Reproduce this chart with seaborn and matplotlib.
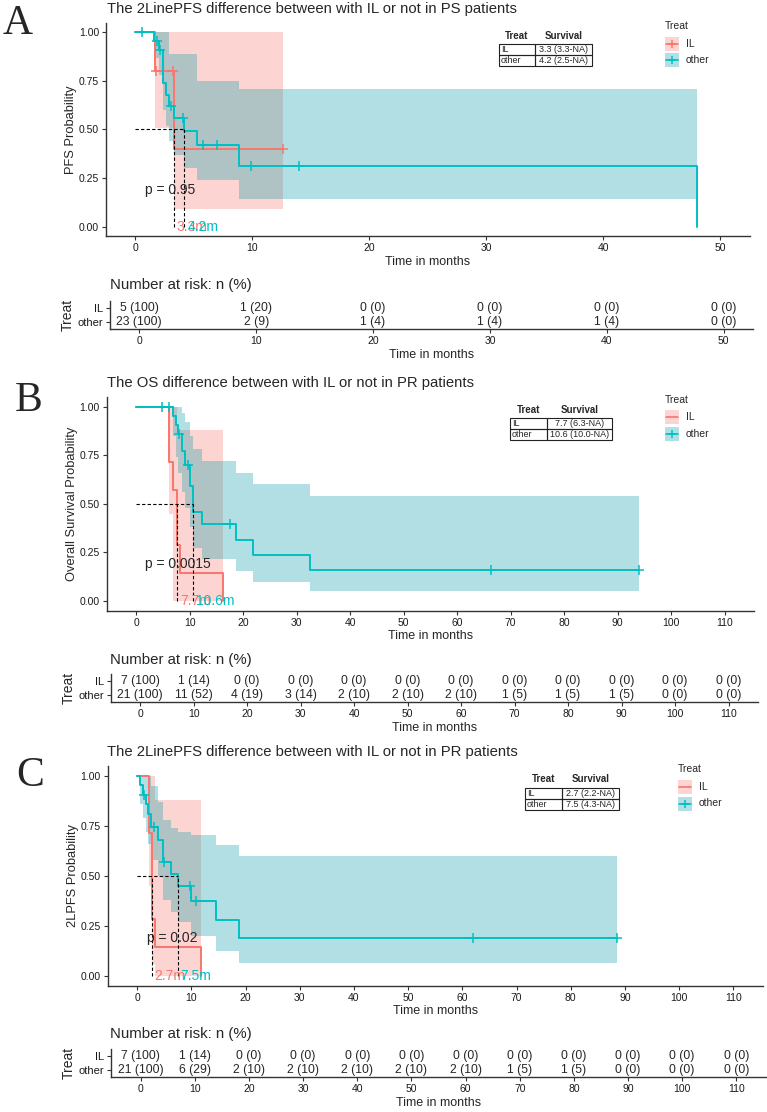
import matplotlib
matplotlib.use("Agg")
import matplotlib.pyplot as plt
from matplotlib import font_manager
from matplotlib.patches import Rectangle
import numpy as np
import pandas as pd
import seaborn as sns

# ---------------- values ----------------
# Panel A: 2LinePFS, PS patients
a_il_t = [0, 1.7, 3.3, 12.6]
a_il_s = [1.0, 0.8, 0.4, 0.4]
a_il_lo = [1.0, 0.51, 0.09, 0.09]
a_il_hi = [1.0, 1.0, 1.0, 1.0]
a_il_cens = [1.8, 3.2, 12.6]
a_ot_t = [0, 1.6, 2.0, 2.4, 2.6, 2.85, 3.3, 4.2, 5.3, 8.9, 48]
a_ot_s = [1.0, 0.957, 0.91, 0.74, 0.68, 0.62, 0.56, 0.49, 0.42, 0.31, 0.0]
a_ot_lo = [1.0, 0.87, 0.78, 0.6, 0.52, 0.44, 0.37, 0.30, 0.24, 0.14, 0.14]
a_ot_hi = [1.0, 1.0, 1.0, 1.0, 1.0, 0.886, 0.886, 0.886, 0.75, 0.706, 0.706]
a_ot_cens = [0.6, 1.9, 2.1, 3.05, 4.1, 5.8, 7.0, 9.9, 14.0]
a_median = [3.3, 4.2]
a_lcl = [3.3, 2.5]
a_pval = "p = 0.95"
a_risk_t = [0, 10, 20, 30, 40, 50]
a_risk_il_n = [5, 1, 0, 0, 0, 0]
a_risk_il_p = [100, 20, 0, 0, 0, 0]
a_risk_ot_n = [23, 2, 1, 1, 1, 0]
a_risk_ot_p = [100, 9, 4, 4, 4, 0]

# Panel B: OS, PR patients
b_il_t = [0, 6.2, 7.0, 7.7, 8.2, 16.2]
b_il_s = [1.0, 0.714, 0.571, 0.286, 0.143, 0.0]
b_il_lo = [1.0, 0.45, 0.0, 0.0, 0.0, 0.0]
b_il_hi = [1.0, 1.0, 1.0, 0.88, 0.88, 0.88]
b_il_cens = []
b_ot_t = [0, 6.84, 7.4, 7.9, 8.6, 9.1, 10.0, 10.6, 12.4, 18.6, 21.8, 32.5, 94]
b_ot_s = [1.0, 0.952, 0.905, 0.857, 0.77, 0.70, 0.59, 0.457, 0.396, 0.315, 0.236, 0.16, 0.16]
b_ot_lo = [1.0, 0.85, 0.74, 0.66, 0.56, 0.48, 0.38, 0.275, 0.214, 0.153, 0.10, 0.05, 0.05]
b_ot_hi = [1.0, 1.0, 1.0, 1.0, 0.97, 0.92, 0.85, 0.78, 0.72, 0.66, 0.60, 0.54, 0.54]
b_ot_cens = [4.9, 6.2, 8.1, 9.8, 17.5, 66.4, 94]
b_median = [7.7, 10.6]
b_lcl = [6.3, 10.0]
b_pval = "p = 0.0015"
b_risk_t = [0, 10, 20, 30, 40, 50, 60, 70, 80, 90, 100, 110]
b_risk_il_n = [7, 1, 0, 0, 0, 0, 0, 0, 0, 0, 0, 0]
b_risk_il_p = [100, 14, 0, 0, 0, 0, 0, 0, 0, 0, 0, 0]
b_risk_ot_n = [21, 11, 4, 3, 2, 2, 2, 1, 1, 1, 0, 0]
b_risk_ot_p = [100, 52, 19, 14, 10, 10, 10, 5, 5, 5, 0, 0]

# Panel C: 2LinePFS, PR patients
c_il_t = [0, 2.2, 2.7, 3.3, 11.7]
c_il_s = [1.0, 0.714, 0.286, 0.143, 0.0]
c_il_lo = [1.0, 0.45, 0.06, 0.0, 0.0]
c_il_hi = [1.0, 1.0, 1.0, 0.88, 0.88]
c_il_cens = []
c_ot_t = [0, 0.5, 1.0, 1.6, 2.0, 2.6, 3.9, 4.8, 6.3, 7.5, 10.0, 14.6, 18.8, 88.6]
c_ot_s = [1.0, 0.952, 0.905, 0.857, 0.81, 0.745, 0.68, 0.57, 0.508, 0.45, 0.375, 0.28, 0.187, 0.187]
c_ot_lo = [1.0, 0.86, 0.79, 0.72, 0.66, 0.58, 0.50, 0.38, 0.32, 0.27, 0.20, 0.125, 0.065, 0.065]
c_ot_hi = [1.0, 1.0, 1.0, 1.0, 1.0, 0.95, 0.87, 0.78, 0.74, 0.72, 0.705, 0.655, 0.60, 0.60]
c_ot_cens = [1.2, 3.1, 4.9, 9.7, 10.9, 61.9, 88.6]
c_median = [2.7, 7.5]
c_lcl = [2.2, 4.3]
c_pval = "p = 0.02"
c_risk_t = [0, 10, 20, 30, 40, 50, 60, 70, 80, 90, 100, 110]
c_risk_il_n = [7, 1, 0, 0, 0, 0, 0, 0, 0, 0, 0, 0]
c_risk_il_p = [100, 14, 0, 0, 0, 0, 0, 0, 0, 0, 0, 0]
c_risk_ot_n = [21, 6, 2, 2, 2, 2, 2, 1, 1, 0, 0, 0]
c_risk_ot_p = [100, 29, 10, 10, 10, 10, 10, 5, 5, 0, 0, 0]

groups = ["IL", "other"]

# ---------------- style ----------------
sns.set_style("ticks")
installed = {f.name for f in font_manager.fontManager.ttflist}
NARROW = "Liberation Sans Narrow" if "Liberation Sans Narrow" in installed else "Liberation Sans"
plt.rcParams["font.family"] = ["Liberation Sans", "DejaVu Sans"]

PAL = {"IL": "#F8766D", "other": "#00BFC4"}
BAND = {"IL": "#F8766D", "other": "#0098A5"}  # the printed teal band is a bit duller
INK = "#333333"

W, H = 767, 1112
fig = plt.figure(figsize=(W / 100, H / 100), dpi=100)


def box(l, t, r, b):
    # axes from pixel box (left, top, right, bottom)
    return fig.add_axes([l / W, 1 - b / H, (r - l) / W, (b - t) / H])


def style(ax):
    sns.despine(ax=ax)
    for sp in ("left", "bottom"):
        ax.spines[sp].set_color(INK)
        ax.spines[sp].set_linewidth(1.0)
    ax.tick_params(length=3, width=0.8, color=INK, labelsize=7.5,
                   labelcolor="#1a1a1a", pad=2)


def step_at(t, s, x):
    i = np.searchsorted(t, x, side="right") - 1
    return np.asarray(s)[i]


def km_panel(ax, curves, xlim, xticks, ylabel, medians, pval):
    for g in groups:
        t, s, lo, hi, cens = curves[g]
        ax.fill_between(t, lo, hi, step="post", color=BAND[g], alpha=0.3, lw=0)
    for g in groups:
        t, s, lo, hi, cens = curves[g]
        df = pd.DataFrame({"time": t, "surv": s})
        sns.lineplot(data=df, x="time", y="surv", ax=ax, color=PAL[g], lw=1.4,
                     drawstyle="steps-post", estimator=None, sort=False)
        if len(cens):
            sns.scatterplot(x=cens, y=step_at(t, s, cens), ax=ax, marker="+",
                            color=PAL[g], s=45, linewidth=1.1, zorder=4)
    # median lines
    ax.plot([0, max(medians)], [0.5, 0.5], ls=(0, (3, 2)), color="black", lw=0.8)
    for g, m in zip(groups, medians):
        ax.plot([m, m], [0, 0.5], ls=(0, (3, 2)), color="black", lw=0.8)
        ax.annotate(f"{m}m", xy=(m, 0), xytext=(2, 0), textcoords="offset points",
                    color=PAL[g], fontsize=10, va="center", ha="left")
    ax.text(0.06, 0.19, pval, transform=ax.get_yaxis_transform(), fontsize=10,
            ha="left", va="center")
    ax.set_xlim(xlim)
    ax.set_ylim(-0.05, 1.05)
    ax.set_xticks(xticks)
    ax.set_yticks([0, 0.25, 0.5, 0.75, 1.0])
    ax.set_yticklabels(["0.00", "0.25", "0.50", "0.75", "1.00"])
    ax.set_xlabel("Time in months", fontsize=9, family=NARROW, labelpad=2)
    ax.set_ylabel(ylabel, fontsize=9.3, labelpad=1)
    style(ax)


def risk_panel(ax, times, il_n, il_p, ot_n, ot_p, xlim):
    for x, n, p in zip(times, il_n, il_p):
        ax.text(x, 2, f"{n} ({p})", ha="center", va="center", fontsize=8.7, family=NARROW)
    for x, n, p in zip(times, ot_n, ot_p):
        ax.text(x, 1, f"{n} ({p})", ha="center", va="center", fontsize=8.7, family=NARROW)
    ax.set_xlim(xlim)
    ax.set_ylim(0.5, 2.5)
    ax.set_xticks(times)
    ax.set_yticks([2, 1])
    ax.set_yticklabels(groups, family=NARROW, fontsize=8)
    for lab, g in zip(ax.get_yticklabels(), groups):
        lab.set_color(PAL[g])
    ax.set_xlabel("Time in months", fontsize=9, family=NARROW, labelpad=2)
    ax.set_ylabel("Treat", fontsize=10, labelpad=2)
    style(ax)
    ax.tick_params(axis="y", labelsize=8)


panels = [
    dict(main=(106, 22.6, 749.5, 236.4), rbox=(110, 301, 753, 329),
         xlim=(-2.5, 52.5), xticks=a_risk_t, ylabel="PFS Probability",
         curves={"IL": (a_il_t, a_il_s, a_il_lo, a_il_hi, a_il_cens),
                 "other": (a_ot_t, a_ot_s, a_ot_lo, a_ot_hi, a_ot_cens)},
         median=a_median, lcl=a_lcl, pval=a_pval,
         risk=(a_risk_t, a_risk_il_n, a_risk_il_p, a_risk_ot_n, a_risk_ot_p)),
    dict(main=(106.6, 397, 754, 610.7), rbox=(110.6, 674, 758, 702),
         xlim=(-5.5, 115.5), xticks=b_risk_t, ylabel="Overall Survival Probability",
         curves={"IL": (b_il_t, b_il_s, b_il_lo, b_il_hi, b_il_cens),
                 "other": (b_ot_t, b_ot_s, b_ot_lo, b_ot_hi, b_ot_cens)},
         median=b_median, lcl=b_lcl, pval=b_pval,
         risk=(b_risk_t, b_risk_il_n, b_risk_il_p, b_risk_ot_n, b_risk_ot_p)),
    dict(main=(107.5, 765.7, 763, 985.7), rbox=(111, 1049, 766, 1077),
         xlim=(-5.5, 115.5), xticks=c_risk_t, ylabel="2LPFS Probability",
         curves={"IL": (c_il_t, c_il_s, c_il_lo, c_il_hi, c_il_cens),
                 "other": (c_ot_t, c_ot_s, c_ot_lo, c_ot_hi, c_ot_cens)},
         median=c_median, lcl=c_lcl, pval=c_pval,
         risk=(c_risk_t, c_risk_il_n, c_risk_il_p, c_risk_ot_n, c_risk_ot_p)),
]

# placement of decorations, in pixels
titles = ["The 2LinePFS difference between with IL or not in PS patients",
          "The OS difference between with IL or not in PR patients",
          "The 2LinePFS difference between with IL or not in PR patients"]
title_y = [9, 383, 752]
risk_title_y = [285, 660, 1034]
letters = [("A", 17.5, 24), ("B", 29, 401), ("C", 30, 776)]
legend_pos = [(665, 26, 43.7, 59.7, 686), (665, 400, 417, 433.7, 686),
              (678, 769, 787, 803.5, 699)]
table_pos = [(499, 535, 592, 36, 43.7, 54.7, 66),
             (510, 547, 612, 410, 418, 429, 440),
             (525, 562, 619, 779, 788, 799, 810)]

for p in panels:
    ax = box(*p["main"])
    km_panel(ax, p["curves"], p["xlim"], p["xticks"], p["ylabel"], p["median"], p["pval"])
    rx = box(*p["rbox"])
    risk_panel(rx, *p["risk"], p["xlim"])

# overlay in pixel coordinates for titles, legends and tables
ov = fig.add_axes([0, 0, 1, 1])
ov.set_xlim(0, W)
ov.set_ylim(H, 0)
ov.set_axis_off()
ov.patch.set_alpha(0)

for i, p in enumerate(panels):
    ov.text(107, title_y[i], titles[i], fontsize=10.7, ha="left", va="center")
    ov.text(110, risk_title_y[i], "Number at risk: n (%)", fontsize=10.8,
            family=NARROW, ha="left", va="center")
    # legend
    lx, ty, y1, y2, tx = legend_pos[i]
    ov.text(lx, ty, "Treat", fontsize=7.5, ha="left", va="center")
    for g, yy in zip(groups, (y1, y2)):
        ov.add_patch(Rectangle((lx, yy - 7), 14, 14, color=BAND[g], alpha=0.3, lw=0))
        ov.plot([lx + 1, lx + 13], [yy, yy], color=PAL[g], lw=1.2)
        if len(p["curves"][g][4]):
            ov.plot([lx + 7], [yy], marker="+", color=PAL[g], ms=6, mew=1.1)
        ov.text(tx, yy, g, fontsize=7.5, ha="left", va="center")
    # median survival table
    l, d, r, hy, t0, t1, t2 = table_pos[i]
    ov.text((l + d) / 2, hy, "Treat", fontsize=7, weight="bold", ha="center", va="center")
    ov.text((d + r) / 2, hy, "Survival", fontsize=7, weight="bold", ha="center", va="center")
    for g, m, lc, (ya, yb) in zip(groups, p["median"], p["lcl"], ((t0, t1), (t1, t2))):
        ov.add_patch(Rectangle((l, ya), d - l, yb - ya, fill=False, ec="#222222", lw=0.8))
        ov.add_patch(Rectangle((d, ya), r - d, yb - ya, fill=False, ec="#222222", lw=0.8))
        ov.text(l + 2, (ya + yb) / 2, g, fontsize=6.5, family=NARROW, ha="left", va="center")
        ov.text((d + r) / 2, (ya + yb) / 2, f"{m:.1f} ({lc:.1f}-NA)", fontsize=6.5,
                family=NARROW, ha="center", va="center")

for ch, x, y in letters:
    ov.text(x, y, ch, fontsize=30, family="Liberation Serif", ha="center", va="center")

fig.savefig("out.png", dpi=100)
